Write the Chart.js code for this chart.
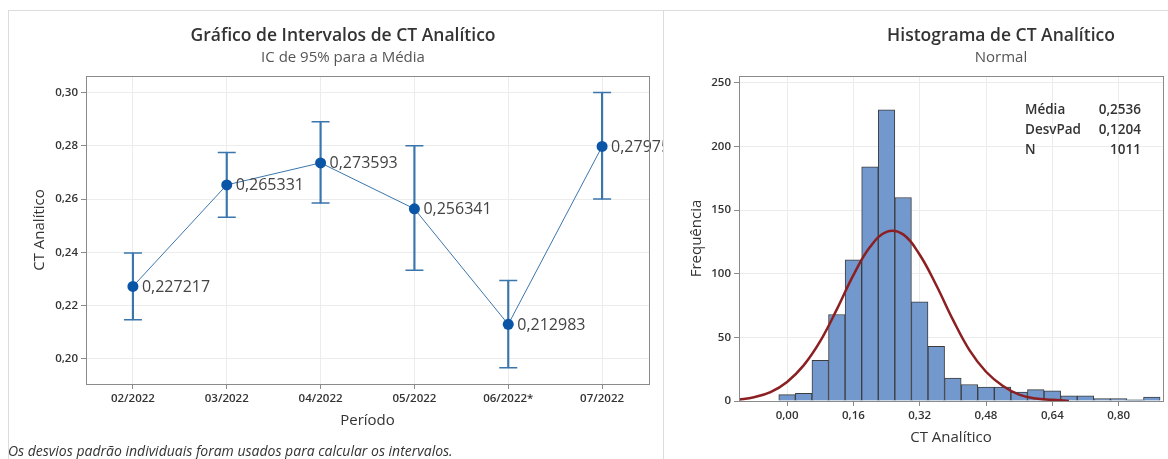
<!DOCTYPE html>
<html>
<head>
<meta charset="utf-8">
<script src="https://cdn.jsdelivr.net/npm/chart.js@4"></script>
<style>
  body { margin: 0; background: #fff; font-family: "Open Sans", sans-serif; color: #333; }
  #wrap { position: relative; width: 1168px; height: 459px; overflow: hidden; }
  canvas { position: absolute; top: 0; }
  #intervalChart { left: 0; }
  #histChart { left: 663px; }
  .line { position: absolute; background: #dcdcdc; }
  .txt { position: absolute; white-space: nowrap; }
  .title { font-size: 17.5px; font-weight: 600; color: #333; transform: translateX(-50%); }
  .sub { font-size: 15px; color: #555; transform: translateX(-50%); }
  .stat { font-size: 13.5px; font-weight: 600; color: #333; line-height: 20px; }
</style>
</head>
<body>
<div id="wrap">
  <div class="line" style="left:8px; top:10px; width:1160px; height:1px;"></div>
  <div class="line" style="left:8px; top:10px; width:1px; height:449px;"></div>
  <div class="line" style="left:663px; top:10px; width:1px; height:449px;"></div>

  <canvas id="intervalChart" width="663" height="459"></canvas>
  <canvas id="histChart" width="505" height="459"></canvas>

  <div class="txt title" style="left:343px; top:22px;">Gráfico de Intervalos de CT Analítico</div>
  <div class="txt sub" style="left:343px; top:46px;">IC de 95% para a Média</div>
  <div class="txt title" style="left:1001px; top:22px;">Histograma de CT Analítico</div>
  <div class="txt sub" style="left:1001px; top:46px;">Normal</div>

  <div class="txt stat" style="left:1025px; top:99px;">Média<br>DesvPad<br>N</div>
  <div class="txt stat" style="left:1075px; width:66px; top:99px; text-align:right;">0,2536<br>0,1204<br>1011</div>

  <div class="txt" style="left:8px; top:441px; font-size:14px; font-style:italic; color:#333;">Os desvios padrão individuais foram usados para calcular os intervalos.</div>
</div>

<script>
// Gráfico de intervalos
const periodos = ['02/2022', '03/2022', '04/2022', '05/2022', '06/2022*', '07/2022'];
const medias = [0.227217, 0.265331, 0.273593, 0.256341, 0.212983, 0.27975];
const icInferior = [0.2147, 0.2532, 0.2585, 0.2333, 0.1967, 0.2600];
const icSuperior = [0.2398, 0.2775, 0.2890, 0.2800, 0.2294, 0.3000];
const ticksIntervalo = [0.20, 0.22, 0.24, 0.26, 0.28, 0.30];

// Histograma
const classes = [0.00, 0.04, 0.08, 0.12, 0.16, 0.20, 0.24, 0.28, 0.32, 0.36, 0.40, 0.44,
                 0.48, 0.52, 0.56, 0.60, 0.64, 0.68, 0.72, 0.76, 0.80, 0.84, 0.88];
const frequencias = [5, 6, 32, 68, 111, 184, 229, 160, 78, 43, 18, 13,
                     11, 11, 7, 9, 8, 4, 4, 2, 2, 1, 3];
const curvaX = [-0.12, -0.08, -0.04, 0.00, 0.04, 0.08, 0.12, 0.16, 0.20, 0.24, 0.28,
                0.32, 0.36, 0.40, 0.44, 0.48, 0.52, 0.56, 0.60, 0.64, 0.68];
const curvaY = [1, 3, 7, 15, 28, 47, 72, 99, 121, 133, 131,
                115, 91, 64, 40, 23, 12, 5, 2, 1, 0];
const ticksHistX = [0.00, 0.16, 0.32, 0.48, 0.64, 0.80];
const ticksHistY = [0, 50, 100, 150, 200, 250];

const virgula = (v, casas) => v.toFixed(casas).replace('.', ',');

const fonteTick = { family: 'Open Sans', size: 11.5, weight: '600' };
const fonteTitulo = { family: 'Open Sans', size: 15 };
const corGrade = '#ececec';
const corEixo = '#8a8a8a';

// moldura em volta da área do gráfico
const moldura = {
    id: 'moldura',
    afterDraw(chart) {
        const { ctx, chartArea: a } = chart;
        ctx.save();
        ctx.strokeStyle = corEixo;
        ctx.lineWidth = 1;
        ctx.strokeRect(Math.round(a.left) + 0.5, Math.round(a.top) + 0.5,
                       Math.round(a.right - a.left), Math.round(a.bottom - a.top));
        ctx.restore();
    }
};

// rótulos das médias ao lado dos pontos
const rotulosMedias = {
    id: 'rotulosMedias',
    afterDatasetsDraw(chart) {
        const meta = chart.getDatasetMeta(0);
        const ctx = chart.ctx;
        ctx.save();
        ctx.font = '16px "Open Sans"';
        ctx.fillStyle = '#444';
        ctx.textBaseline = 'middle';
        meta.data.forEach((pt, i) => {
            ctx.fillText(String(medias[i]).replace('.', ','), pt.x + 9, pt.y + 1);
        });
        ctx.restore();
    }
};

const azulPonto = '#0a55a5';
const azulBarra = '#3a76ac';

new Chart(document.getElementById('intervalChart'), {
    type: 'line',
    data: {
        labels: periodos,
        datasets: [{
            label: 'Média',
            data: medias,
            borderColor: azulBarra,
            borderWidth: 1,
            pointRadius: 5.5,
            pointBackgroundColor: azulPonto,
            pointBorderWidth: 0,
            tension: 0,
            order: 0
        }, {
            type: 'bar',
            label: 'IC',
            data: icInferior.map((v, i) => [v, icSuperior[i]]),
            backgroundColor: azulBarra,
            barThickness: 1.5,
            order: 2
        }, {
            label: 'inf',
            data: icInferior,
            showLine: false,
            pointStyle: 'line',
            pointRadius: 9,
            pointBorderWidth: 1.5,
            pointBorderColor: azulBarra,
            order: 1
        }, {
            label: 'sup',
            data: icSuperior,
            showLine: false,
            pointStyle: 'line',
            pointRadius: 9,
            pointBorderWidth: 1.5,
            pointBorderColor: azulBarra,
            order: 1
        }]
    },
    options: {
        responsive: false,
        animation: false,
        events: [],
        layout: { padding: { top: 76, right: 14, left: 27, bottom: 25 } },
        plugins: { legend: { display: false }, tooltip: { enabled: false } },
        scales: {
            x: {
                offset: true,
                grid: { offset: false, color: corGrade, tickLength: 5, tickColor: corEixo },
                border: { color: corEixo },
                ticks: { font: fonteTick, color: '#333', padding: 3, maxRotation: 0, autoSkip: false },
                title: { display: true, text: 'Período', font: fonteTitulo, color: '#333' },
                afterFit: s => { s.height = 50; }
            },
            y: {
                min: 0.1906,
                max: 0.3062,
                grid: { color: corGrade, tickLength: 5, tickColor: corEixo },
                border: { color: corEixo },
                afterBuildTicks: s => { s.ticks = ticksIntervalo.map(v => ({ value: v })); },
                ticks: { font: fonteTick, color: '#333', padding: 3, callback: v => virgula(v, 2) },
                title: { display: true, text: 'CT Analítico', font: fonteTitulo, color: '#333' },
                afterFit: s => { s.width = 59; }
            }
        }
    },
    plugins: [moldura, rotulosMedias]
});

new Chart(document.getElementById('histChart'), {
    type: 'bar',
    data: {
        datasets: [{
            type: 'line',
            label: 'Normal',
            data: curvaX.map((x, i) => ({ x: x, y: curvaY[i] })),
            borderColor: '#8b1f22',
            borderWidth: 2.5,
            pointRadius: 0,
            tension: 0.4,
            order: 0
        }, {
            label: 'Frequência',
            data: classes.map((x, i) => ({ x: x, y: frequencias[i] })),
            backgroundColor: '#7398cd',
            borderColor: '#3c3c3c',
            borderWidth: 1,
            barPercentage: 1,
            categoryPercentage: 1,
            grouped: false,
            order: 1
        }]
    },
    options: {
        responsive: false,
        animation: false,
        events: [],
        layout: { padding: { top: 76, right: 5, left: 21, bottom: 8 } },
        plugins: { legend: { display: false }, tooltip: { enabled: false } },
        scales: {
            x: {
                type: 'linear',
                min: -0.116,
                max: 0.907,
                offset: false,
                grid: { offset: false, color: corGrade, tickLength: 5, tickColor: corEixo },
                border: { color: corEixo },
                afterBuildTicks: s => { s.ticks = ticksHistX.map(v => ({ value: v })); },
                ticks: { font: fonteTick, color: '#333', padding: 3, maxRotation: 0, callback: v => virgula(v, 2) },
                title: { display: true, text: 'CT Analítico', font: fonteTitulo, color: '#333' },
                afterFit: s => { s.height = 50; }
            },
            y: {
                min: 0,
                max: 255.5,
                grid: { color: corGrade, tickLength: 5, tickColor: corEixo },
                border: { color: corEixo },
                afterBuildTicks: s => { s.ticks = ticksHistY.map(v => ({ value: v })); },
                ticks: { font: fonteTick, color: '#333', padding: 3 },
                title: { display: true, text: 'Frequência', font: fonteTitulo, color: '#333' },
                afterFit: s => { s.width = 55; }
            }
        }
    },
    plugins: [moldura]
});
</script>
</body>
</html>
